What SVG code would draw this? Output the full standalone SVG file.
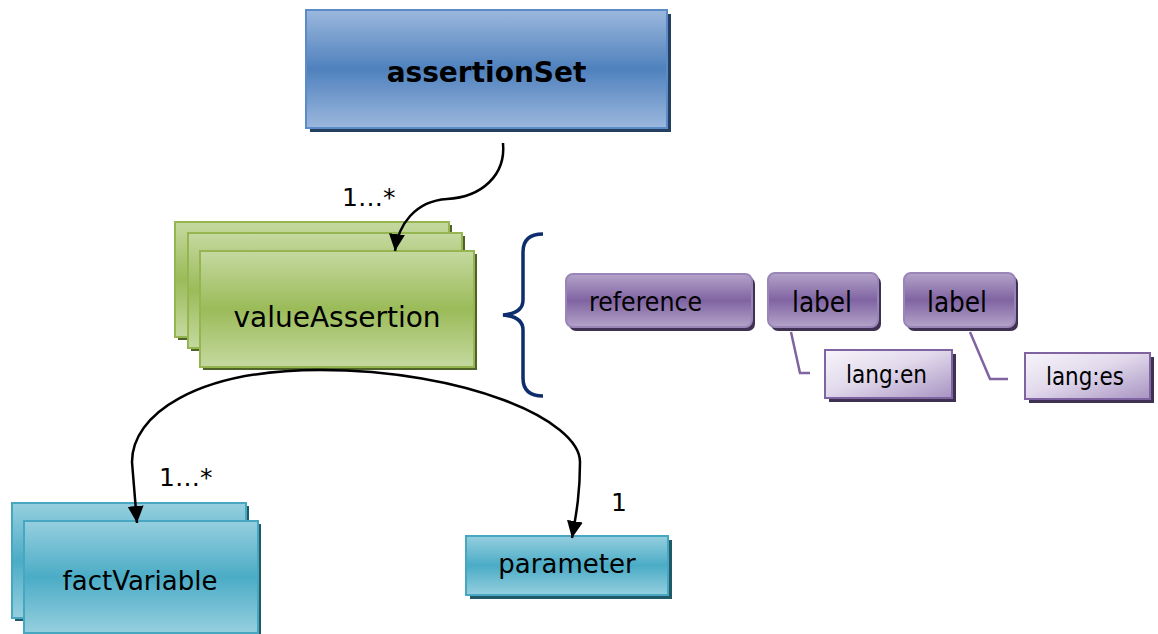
<svg xmlns="http://www.w3.org/2000/svg" width="1158" height="634" viewBox="0 0 1158 634">
<defs>
<linearGradient id="gBlue" x1="0" y1="0" x2="0" y2="1">
<stop offset="0" stop-color="#9cb8dd"/><stop offset="0.5" stop-color="#4f81bd"/><stop offset="1" stop-color="#9cb8dd"/>
</linearGradient>
<linearGradient id="gGreen" x1="0" y1="0" x2="0" y2="1">
<stop offset="0" stop-color="#c5d9a0"/><stop offset="0.5" stop-color="#9bbb59"/><stop offset="1" stop-color="#c5d9a0"/>
</linearGradient>
<linearGradient id="gTeal" x1="0" y1="0" x2="0" y2="1">
<stop offset="0" stop-color="#96cfdf"/><stop offset="0.5" stop-color="#4bacc6"/><stop offset="1" stop-color="#96cfdf"/>
</linearGradient>
<linearGradient id="gPurple" x1="0" y1="0" x2="0" y2="1">
<stop offset="0" stop-color="#b4a3c9"/><stop offset="0.5" stop-color="#8064a2"/><stop offset="1" stop-color="#b4a3c9"/>
</linearGradient>
<linearGradient id="gLang" x1="0" y1="0" x2="1" y2="1">
<stop offset="0" stop-color="#f7f4fa"/><stop offset="0.45" stop-color="#e2daec"/><stop offset="1" stop-color="#a893c2"/>
</linearGradient>
<marker id="arrow" markerUnits="userSpaceOnUse" markerWidth="20" markerHeight="18" refX="17" refY="8" orient="auto">
<path d="M0,0 L17,8 L0,16 z" fill="#000"/>
</marker>
</defs>
<style>
.blue{fill:url(#gBlue);stroke:#5b8cc8;stroke-width:2}
.green{fill:url(#gGreen);stroke:#94b550;stroke-width:2}
.teal{fill:url(#gTeal);stroke:#47a7c1;stroke-width:2}
.purple{fill:url(#gPurple);stroke:#9a85b8;stroke-width:2}
.lang{fill:url(#gLang);stroke:#8064a2;stroke-width:2}
.shBlue{fill:#243f60}
.shGreen{fill:#4f6228}
.shTeal{fill:#215968}
.shPurple{fill:#3f3151}
.t{font-family:"DejaVu Sans","Liberation Sans",sans-serif;fill:#000}
.tc{font-family:"DejaVu Sans Condensed","DejaVu Sans","Liberation Sans",sans-serif;font-stretch:condensed;fill:#000}
.conn{fill:none;stroke:#000;stroke-width:2.5}
.pl{fill:none;stroke:#8064a2;stroke-width:2.5}
</style>

<g id="assertionSet">
<rect class="shBlue" x="310" y="14" width="361" height="118"/>
<rect class="blue" x="306" y="10" width="361" height="118"/>
<text class="t" x="486.5" y="82" font-size="28" font-weight="bold" text-anchor="middle">assertionSet</text>
</g>

<g id="valueAssertion">
<rect class="shGreen" x="178" y="225" width="274" height="115"/>
<rect class="green" x="175" y="222" width="274" height="115"/>
<rect class="shGreen" x="191" y="236" width="274" height="115"/>
<rect class="green" x="188" y="233" width="274" height="115"/>
<rect class="shGreen" x="203" y="254" width="274" height="116"/>
<rect class="green" x="200" y="251" width="274" height="116"/>
<text class="t" x="337" y="327" font-size="28" text-anchor="middle">valueAssertion</text>
</g>

<g id="brace">
<path d="M543,234 C530,234 523,240 523,252 L523,300 C523,310 515,314 503,315 C515,316 523,320 523,330 L523,378 C523,390 530,396 543,396" fill="none" stroke="#0e2d6d" stroke-width="3.5"/>
</g>

<g id="reference">
<rect class="shPurple" x="569" y="277" width="186" height="54" rx="7"/>
<rect class="purple" x="566" y="274" width="186" height="53" rx="7"/>
<text class="tc" x="589" y="311" font-size="27" textLength="113" lengthAdjust="spacingAndGlyphs">reference</text>
</g>

<g id="label1">
<rect class="shPurple" x="771" y="276" width="110" height="55" rx="7"/>
<rect class="purple" x="768" y="273" width="110" height="54" rx="7"/>
<text class="tc" x="822" y="312" font-size="28" text-anchor="middle" textLength="60" lengthAdjust="spacingAndGlyphs">label</text>
</g>

<g id="label2">
<rect class="shPurple" x="907" y="276" width="111" height="55" rx="7"/>
<rect class="purple" x="904" y="273" width="111" height="54" rx="7"/>
<text class="tc" x="957" y="312" font-size="28" text-anchor="middle" textLength="60" lengthAdjust="spacingAndGlyphs">label</text>
</g>

<g id="langEn">
<rect class="shPurple" x="829" y="354" width="127" height="48"/>
<rect class="lang" x="825" y="350" width="127" height="48"/>
<text class="tc" x="886.5" y="383" font-size="24" text-anchor="middle" textLength="81" lengthAdjust="spacingAndGlyphs">lang:en</text>
</g>

<g id="langEs">
<rect class="shPurple" x="1029" y="357" width="125" height="46"/>
<rect class="lang" x="1025" y="353" width="125" height="46"/>
<text class="tc" x="1085" y="385" font-size="24" text-anchor="middle" textLength="78" lengthAdjust="spacingAndGlyphs">lang:es</text>
</g>

<g id="factVariable">
<rect class="shTeal" x="15" y="506" width="234" height="115"/>
<rect class="teal" x="12" y="503" width="234" height="115"/>
<rect class="shTeal" x="27" y="524" width="234" height="112"/>
<rect class="teal" x="24" y="521" width="234" height="112"/>
<text class="t" x="140" y="590" font-size="26" text-anchor="middle">factVariable</text>
</g>

<g id="parameter">
<rect class="shTeal" x="470" y="540" width="202" height="59"/>
<rect class="teal" x="466" y="536" width="202" height="59"/>
<text class="t" x="567" y="573" font-size="26" text-anchor="middle">parameter</text>
</g>

<g id="connectors">
<path class="conn" d="M503,143 C506,175 482,197 447,199 C415,201 398,225 395,251" marker-end="url(#arrow)"/>
<path class="conn" d="M320,370 C195,370 132,415 132,462 L137,523" marker-end="url(#arrow)"/>
<path class="conn" d="M320,370 C465,370 580,420 580,462 C580,495 576,515 572,538" marker-end="url(#arrow)"/>
<path class="pl" d="M791,332 L800,373 L810,373"/>
<path class="pl" d="M970,332 L990,379 L1008,379"/>
<text class="t" x="342" y="206" font-size="25">1…*</text>
<text class="t" x="159" y="486" font-size="25">1…*</text>
<text class="t" x="611" y="511" font-size="25">1</text>
</g>
</svg>
